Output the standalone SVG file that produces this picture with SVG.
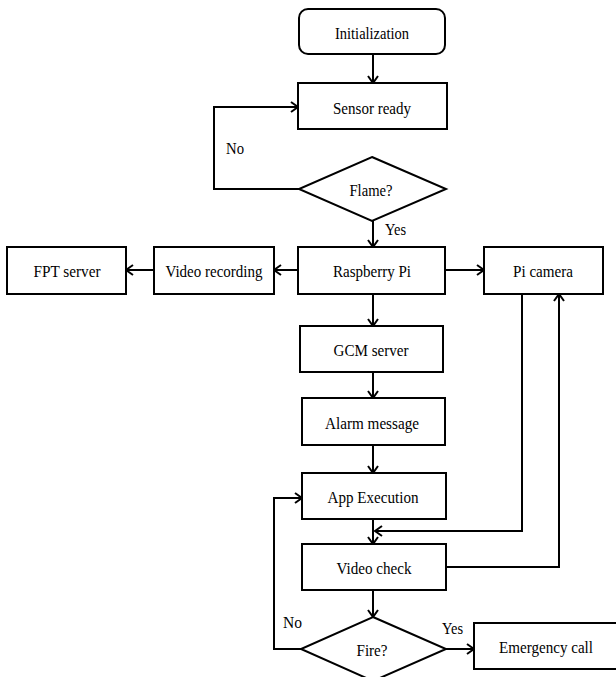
<svg xmlns="http://www.w3.org/2000/svg" width="616" height="677" viewBox="0 0 616 677">
<style>
.b{fill:#fff;stroke:#000;stroke-width:2}
.t{font-family:"Liberation Serif","Times New Roman",serif;font-size:17px;fill:#000;text-anchor:middle}
.l{font-family:"Liberation Serif","Times New Roman",serif;font-size:17px;fill:#000}
.c{fill:none;stroke:#000;stroke-width:2;marker-end:url(#ah)}
.n{fill:none;stroke:#000;stroke-width:2}
</style>
<defs>
<marker id="ah" markerWidth="10" markerHeight="12" refX="8" refY="6" orient="auto" markerUnits="userSpaceOnUse">
<path d="M1,1 L8,6 L1,11" fill="none" stroke="#000" stroke-width="2"/>
</marker>
</defs>
<rect width="616" height="677" fill="#fff"/>
<g id="connectors">
<path class="c" d="M373,54 V83"/>
<path class="c" d="M299,189 H214 V107 H298"/>
<path class="c" d="M373,221 V247"/>
<path class="c" d="M298,270 H274"/>
<path class="c" d="M154,270 H126"/>
<path class="c" d="M445,270 H484"/>
<path class="c" d="M373,294 V326"/>
<path class="c" d="M373,372 V398"/>
<path class="c" d="M373,445 V473"/>
<path class="c" d="M373,519 V544"/>
<path class="c" d="M522,294 V531 H375"/>
<path class="c" d="M446,567 H559 V294"/>
<path class="c" d="M373,590 V617"/>
<path class="c" d="M301,649 H274 V498 H302"/>
<path class="c" d="M446,649 H474"/>
</g>
<g id="n-init"><rect class="b" x="299" y="9" width="146" height="45" rx="9"/><text class="t" x="372" y="39" textLength="74" lengthAdjust="spacingAndGlyphs">Initialization</text></g>
<g id="n-sensor"><rect class="b" x="298" y="83" width="149" height="46"/><text class="t" x="372" y="114" textLength="78" lengthAdjust="spacingAndGlyphs">Sensor ready</text></g>
<g id="n-flame"><polygon class="b" points="372,157 446,189 372,221 299,189"/><text class="t" x="371" y="196" textLength="43" lengthAdjust="spacingAndGlyphs">Flame?</text></g>
<g id="n-rpi"><rect class="b" x="298" y="247" width="147" height="47"/><text class="t" x="372" y="277" textLength="78" lengthAdjust="spacingAndGlyphs">Raspberry Pi</text></g>
<g id="n-video"><rect class="b" x="154" y="247" width="120" height="47"/><text class="t" x="214" y="277" textLength="97" lengthAdjust="spacingAndGlyphs">Video recording</text></g>
<g id="n-fpt"><rect class="b" x="7" y="247" width="119" height="47"/><text class="t" x="67" y="277" textLength="67" lengthAdjust="spacingAndGlyphs">FPT server</text></g>
<g id="n-picam"><rect class="b" x="484" y="247" width="119" height="47"/><text class="t" x="543" y="277" textLength="60" lengthAdjust="spacingAndGlyphs">Pi camera</text></g>
<g id="n-gcm"><rect class="b" x="300" y="326" width="143" height="46"/><text class="t" x="371" y="356" textLength="75" lengthAdjust="spacingAndGlyphs">GCM server</text></g>
<g id="n-alarm"><rect class="b" x="302" y="398" width="143" height="47"/><text class="t" x="372" y="429" textLength="94" lengthAdjust="spacingAndGlyphs">Alarm  message</text></g>
<g id="n-app"><rect class="b" x="302" y="473" width="144" height="46"/><text class="t" x="373" y="503" textLength="91" lengthAdjust="spacingAndGlyphs">App Execution</text></g>
<g id="n-vcheck"><rect class="b" x="302" y="544" width="144" height="46"/><text class="t" x="374" y="574" textLength="75" lengthAdjust="spacingAndGlyphs">Video check</text></g>
<g id="n-fire"><polygon class="b" points="373,617 446,649 373,681 301,649"/><text class="t" x="372" y="656" textLength="31" lengthAdjust="spacingAndGlyphs">Fire?</text></g>
<g id="n-emerg"><rect class="b" x="474" y="623" width="150" height="46"/><text class="t" x="546" y="653" textLength="94" lengthAdjust="spacingAndGlyphs">Emergency call</text></g>
<g id="labels">
<text class="l" x="226" y="154" textLength="18" lengthAdjust="spacingAndGlyphs">No</text>
<text class="l" x="385" y="235" textLength="21" lengthAdjust="spacingAndGlyphs">Yes</text>
<text class="l" x="283" y="628" textLength="19" lengthAdjust="spacingAndGlyphs">No</text>
<text class="l" x="442" y="634" textLength="21" lengthAdjust="spacingAndGlyphs">Yes</text>
</g>
</svg>
